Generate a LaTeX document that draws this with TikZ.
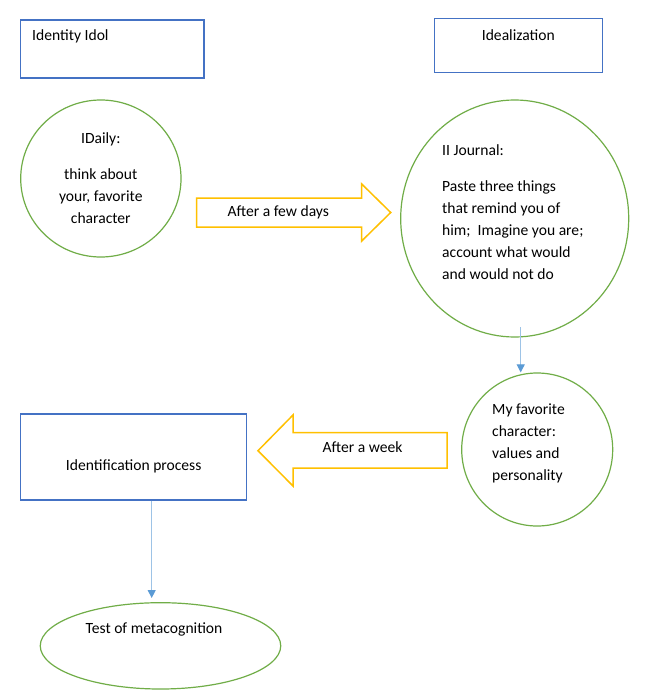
\documentclass[tikz,border=0pt]{standalone}
\usepackage{fontspec}
\setmainfont{Carlito}
\usetikzlibrary{arrows.meta,shapes.geometric}
\definecolor{boxblue}{HTML}{4472C4}
\definecolor{circgreen}{HTML}{70AD47}
\definecolor{arrowyellow}{HTML}{FFC000}
\definecolor{connblue}{HTML}{5B9BD5}
\definecolor{connline}{HTML}{9DC3E6}
\begin{document}
\begin{tikzpicture}[x=1pt,y=-1pt,
  bluebox/.style={draw=boxblue, line width=1.3pt, rectangle, inner sep=0pt},
  greencirc/.style={draw=circgreen, line width=1.2pt, ellipse, inner sep=0pt},
  txt/.style={font=\fontsize{15.6}{22}\selectfont, inner sep=0pt},
  yarrow/.style={draw=arrowyellow, line width=1.5pt, line join=miter},
  conn/.style={draw=connline, line width=1.1pt, -{Triangle[length=8pt,width=8pt,color=connblue]}}]
\fill[white] (0,0) rectangle (647,695);
\useasboundingbox (0,0) rectangle (647,695);
% boxes
\node[bluebox, minimum width=183.3pt, minimum height=58pt] (idol) at (112.35,49) {};
\node[txt, anchor=west] (idolt) at (32,36.7) {Identity Idol};
\node[bluebox, minimum width=168.4pt, minimum height=54pt] (ideal) at (518.5,45.7) {};
\node[txt] (idealt) at (518.3,35) {Idealization};
% circles
\node[greencirc, minimum width=160.3pt, minimum height=157pt] (daily) at (100.85,178.5) {};
\node[txt, align=center] (dailyt) at (100.8,178.5) {IDaily:\\[14pt]think about\\your, favorite\\character};
\node[greencirc, minimum width=228pt, minimum height=237pt] (journal) at (514.7,218.5) {};
\node[txt, align=left, anchor=west] (journalt) at (442,212) {II Journal:\\[14pt]Paste three things\\that remind you of\\him;~ Imagine you are;\\account what would\\and would not do};
\node[greencirc, minimum width=151pt, minimum height=153pt] (fav) at (537.2,449.5) {};
\node[txt, align=left, anchor=west] (favt) at (492,443.7) {My favorite\\character:\\values and\\personality};
\node[bluebox, minimum width=226pt, minimum height=86pt] (ident) at (133.7,457) {};
\node[txt] (identt) at (133.7,466.7) {Identification process};
\node[greencirc, minimum width=240.5pt, minimum height=86.3pt] (meta) at (160.5,645.85) {};
\node[txt] (metat) at (154,629) {Test of metacognition};
% block arrows
\draw[yarrow] (196.7,198) -- (361.7,198) -- (361.7,184) -- (390.7,212.5) -- (361.7,241) -- (361.7,227) -- (196.7,227) -- cycle;
\node[txt] (fewt) at (278.3,212.7) {After a few days};
\draw[yarrow] (447,432.7) -- (293,432.7) -- (293,415) -- (258,450.7) -- (293,486) -- (293,468) -- (447,468) -- cycle;
\node[txt] (weekt) at (362.5,446.7) {After a week};
% connectors
\coordinate (c1s) at (520.7,327);
\draw[conn] (c1s) -- (c1s |- fav.north);
\coordinate (c2e) at (151.7,598);
\draw[conn] (c2e |- ident.south) -- (c2e);
\end{tikzpicture}
\end{document}
